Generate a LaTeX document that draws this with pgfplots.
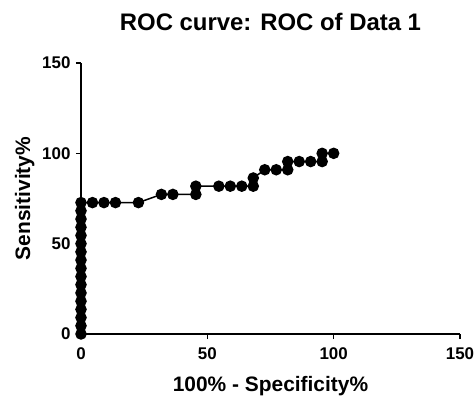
\documentclass[border=0pt]{standalone}
\usepackage{pgfplots}
\pgfplotsset{compat=1.18}
\usepackage{fontspec}
\setmainfont{Liberation Sans}
\begin{document}
\begin{tikzpicture}
\useasboundingbox (-81bp,-68bp) rectangle (394bp,334bp);
\begin{axis}[
  scale only axis, width=379bp, height=271bp,
  xmin=0, xmax=150, ymin=0, ymax=150,
  axis lines=left, axis line style={-, line width=1.6pt},
  xtick={0,50,100,150}, ytick={0,50,100,150},
  tick style={line width=1.4pt, black}, tick align=outside, major tick length=5bp,
  /pgf/number format/assume math mode=true,
  ticklabel style={font=\fontsize{17}{19}\selectfont\bfseries},
  xticklabel style={yshift=-5bp},
  yticklabel style={xshift=-2bp},
  xlabel={100\% - Specificity\%}, ylabel={Sensitivity\%},
  label style={font=\fontsize{21}{24}\selectfont\bfseries},
  xlabel style={yshift=-10bp},
  ylabel style={yshift=1bp},
  title={ROC curve: ROC of Data 1},
  title style={font=\fontsize{24}{28}\selectfont\bfseries, yshift=23bp},
  clip=false,
]
\addplot[black, line width=1.5pt, mark=*, mark size=5bp, mark options={fill=black}] coordinates {
(0,0)(0,4.545)(0,9.09)(0,13.64)(0,18.18)(0,22.73)(0,27.27)(0,31.82)(0,36.36)(0,40.91)(0,45.45)(0,50)(0,54.55)(0,59.09)(0,63.64)(0,68.18)(0,72.73)
(4.545,72.73)(9.09,72.73)(13.64,72.73)(22.73,72.73)(31.82,77.27)(36.36,77.27)(45.45,77.27)(45.45,81.82)(54.55,81.82)(59.09,81.82)(63.64,81.82)(68.18,81.82)(68.18,86.36)(72.73,90.91)(77.27,90.91)(81.82,90.91)(81.82,95.45)(86.36,95.45)(90.91,95.45)(95.45,95.45)(95.45,100)(100,100)
};
\end{axis}
\end{tikzpicture}
\end{document}
